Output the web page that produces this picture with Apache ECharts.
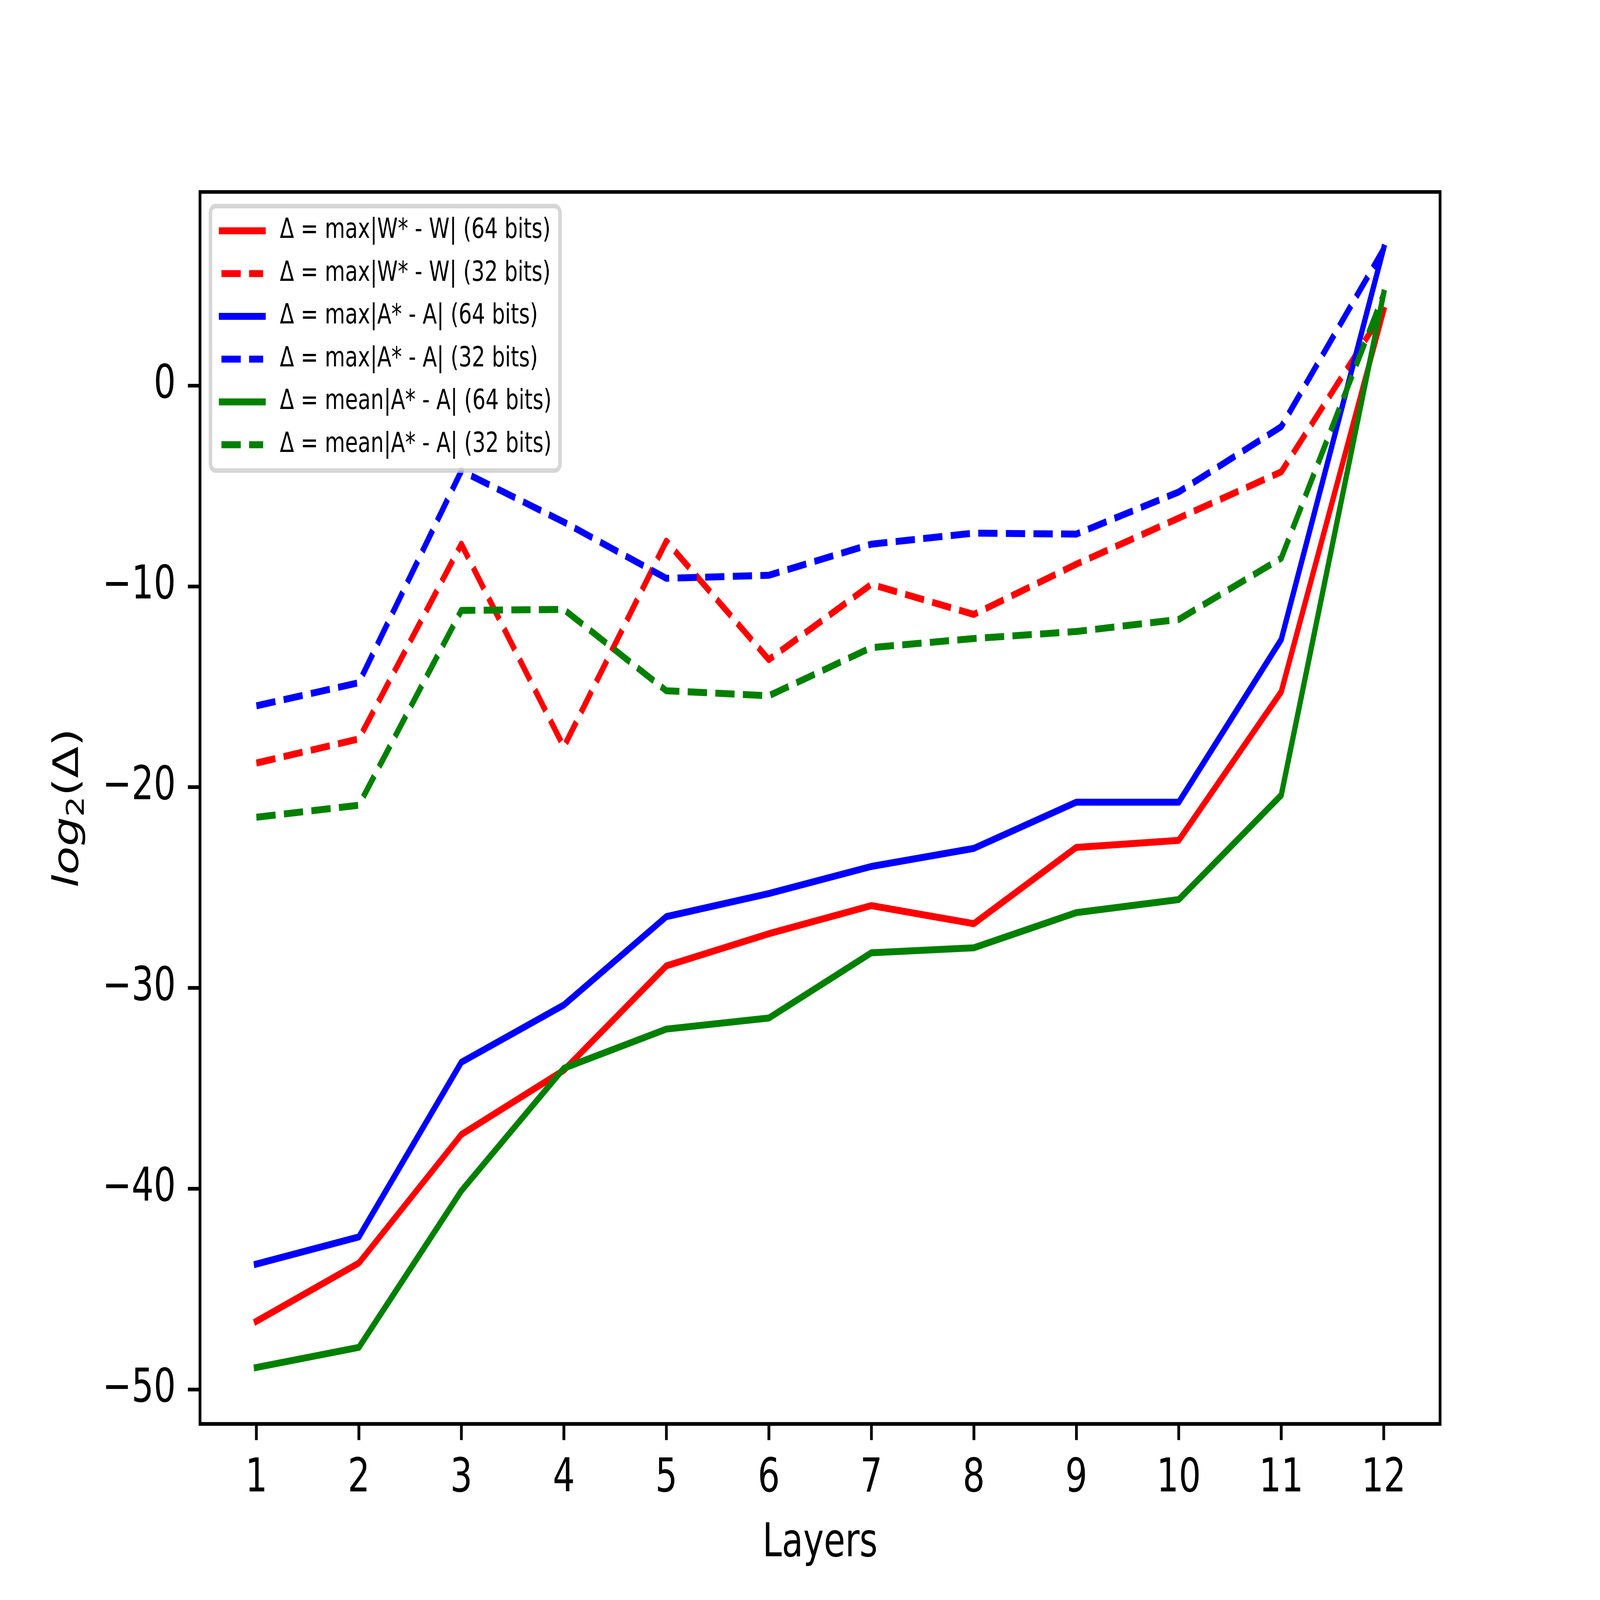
<!DOCTYPE html>
<html>
<head>
<meta charset="utf-8">
<script src="https://cdn.jsdelivr.net/npm/echarts@6/dist/echarts.min.js"></script>
<style>
html,body{margin:0;padding:0;background:#ffffff;overflow:hidden;}
#c{width:7680px;height:5760px;transform-origin:0 0;}
</style>
</head>
<body>
<div id="c"></div>
<script>
// ---- data ----
const layers = [1, 2, 3, 4, 5, 6, 7, 8, 9, 10, 11, 12];
const xTickValues = [1, 2, 3, 4, 5, 6, 7, 8, 9, 10, 11, 12];
const yTickValues = [-50, -40, -30, -20, -10, 0];

const maxW64  = [-46.6, -43.7, -37.3, -34.1, -28.9, -27.3, -25.9, -26.8, -23.0, -22.65, -15.25, 3.75];
const maxW32  = [-18.8, -17.6, -7.9, -18.0, -7.75, -13.65, -9.9, -11.4, -8.9, -6.6, -4.3, 3.7];
const maxA64  = [-43.75, -42.4, -33.7, -30.85, -26.45, -25.3, -23.95, -23.05, -20.75, -20.75, -12.65, 6.85];
const maxA32  = [-15.95, -14.8, -4.25, -6.8, -9.6, -9.45, -7.9, -7.35, -7.4, -5.3, -2.05, 6.8];
const meanA64 = [-48.9, -47.9, -40.1, -34.0, -32.05, -31.5, -28.25, -28.0, -26.25, -25.6, -20.4, 4.6];
const meanA32 = [-21.5, -20.9, -11.2, -11.15, -15.2, -15.45, -13.05, -12.6, -12.25, -11.65, -8.6, 4.55];

const seriesNames = [
  'Δ = max|W* - W| (64 bits)',
  'Δ = max|W* - W| (32 bits)',
  'Δ = max|A* - A| (64 bits)',
  'Δ = max|A* - A| (32 bits)',
  'Δ = mean|A* - A| (64 bits)',
  'Δ = mean|A* - A| (32 bits)'
];
const seriesValues = [maxW64, maxW32, maxA64, maxA32, meanA64, meanA32];
const seriesColors = ['#ff0000', '#ff0000', '#0000ff', '#0000ff', '#008000', '#008000'];
const seriesDashed = [false, true, false, true, false, true];

const xLabel = 'Layers';

// ---- map the 7680x5760 design onto the actual window ----
const W = 7680, H = 5760;
const sx = (window.innerWidth || W) / W;
const sy = (window.innerHeight || H) / H;
const dom = document.getElementById('c');
dom.style.transform = 'scale(' + sx + ',' + sy + ')';
const dpr = (window.devicePixelRatio || 1) * Math.max(sx, sy);

// ---- chart ----
const FONT = 'DejaVu Sans';
const chart = echarts.init(dom, null, {renderer: 'canvas', devicePixelRatio: dpr, width: W, height: H});

const fmtNum = v => (v < 0 ? '\u2212' + Math.abs(v) : String(v));

const series = seriesNames.map((name, i) => ({
  name: name,
  type: 'line',
  data: layers.map((x, j) => [x, seriesValues[i][j]]),
  symbol: 'none',
  showSymbol: false,
  smooth: false,
  animation: false,
  lineStyle: {
    color: seriesColors[i],
    width: 25,
    type: seriesDashed[i] ? [92.5, 40] : 'solid',
    cap: seriesDashed[i] ? 'butt' : 'square',
    join: 'round'
  },
  itemStyle: {color: seriesColors[i]},
  emphasis: {disabled: true}
}));

chart.setOption({
  animation: false,
  backgroundColor: '#ffffff',
  grid: {
    left: 960, top: 691, width: 5952, height: 4435,
    show: true, borderColor: '#000000', borderWidth: 13.3,
    backgroundColor: 'transparent',
    containLabel: false
  },
  legend: {
    orient: 'vertical',
    left: 1010,
    top: 742,
    padding: [37, 40, 41, 40.5],
    itemWidth: 200,
    itemHeight: 25,
    itemGap: 50,
    selectedMode: false,
    backgroundColor: 'rgba(255,255,255,0.8)',
    borderColor: 'rgba(204,204,204,0.8)',
    borderWidth: 16.7,
    borderRadius: 25,
    lineStyle: {width: 25},
    itemStyle: {color: 'rgba(0,0,0,0)', borderWidth: 0, opacity: 0},
    textStyle: {
      fontFamily: FONT, fontSize: 100, color: '#000000', lineHeight: 104,
      padding: [0, 0, 0, 75]
    },
    data: seriesNames
  },
  xAxis: {
    type: 'value',
    min: 0.45,
    max: 12.55,
    name: xLabel,
    nameLocation: 'middle',
    nameGap: 333,
    nameTextStyle: {fontFamily: FONT, fontSize: 167, color: '#000000', lineHeight: 200},
    axisLine: {show: false, onZero: false},
    splitLine: {show: false},
    axisTick: {
      show: true, inside: false, length: 58.3,
      lineStyle: {color: '#000000', width: 13.3},
      customValues: xTickValues
    },
    axisLabel: {
      show: true, margin: 100,
      fontFamily: FONT, fontSize: 167, color: '#000000', lineHeight: 200,
      customValues: xTickValues,
      formatter: v => fmtNum(v)
    }
  },
  yAxis: {
    type: 'value',
    min: -51.71,
    max: 9.64,
    name: '{i|log}{s|2}{n|(Δ)}',
    nameLocation: 'middle',
    nameGap: 530,
    nameRotate: 90,
    nameTextStyle: {
      fontFamily: FONT, fontSize: 167, color: '#000000', lineHeight: 200,
      rich: {
        i: {fontFamily: FONT, fontSize: 167, fontStyle: 'italic', lineHeight: 200, color: '#000000'},
        s: {fontFamily: FONT, fontSize: 117, lineHeight: 80, verticalAlign: 'bottom', color: '#000000'},
        n: {fontFamily: FONT, fontSize: 167, lineHeight: 200, color: '#000000'}
      }
    },
    axisLine: {show: false, onZero: false},
    splitLine: {show: false},
    axisTick: {
      show: true, inside: false, length: 58.3,
      lineStyle: {color: '#000000', width: 13.3},
      customValues: yTickValues
    },
    axisLabel: {
      show: true, margin: 116,
      fontFamily: FONT, fontSize: 167, color: '#000000',
      customValues: yTickValues,
      formatter: v => fmtNum(v)
    }
  },
  series: series
});
</script>
</body>
</html>
